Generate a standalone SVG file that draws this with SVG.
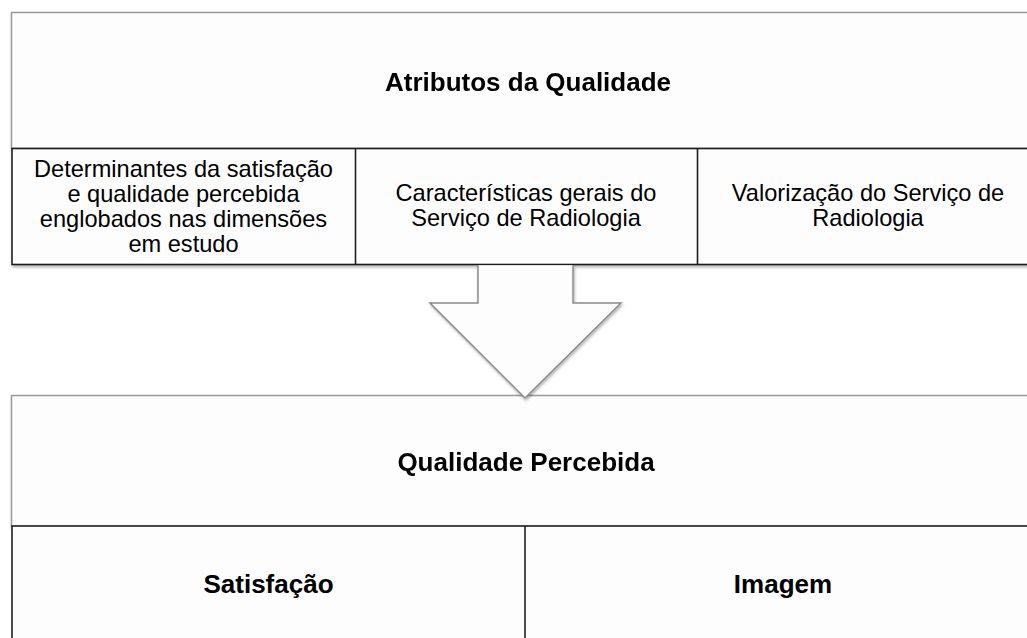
<svg xmlns="http://www.w3.org/2000/svg" width="1027" height="638" viewBox="0 0 1027 638">
  <defs>
    <filter id="sh" x="-5%" y="-5%" width="110%" height="120%">
      <feDropShadow dx="1" dy="2" stdDeviation="1.5" flood-color="#000" flood-opacity="0.3"/>
    </filter>
    <style>
      .hdr { fill: #fdfdfd; stroke: #9a9a9a; stroke-width: 1.5; }
      .row { fill: #fdfdfd; stroke: #1e1e1e; stroke-width: 1.6; }
      .div { stroke: #1e1e1e; stroke-width: 1.6; }
      .b { font-family: "Liberation Sans", Arial, sans-serif; font-weight: bold; font-size: 26px; fill: #000; text-anchor: middle; }
      .r { font-family: "Liberation Sans", Arial, sans-serif; font-size: 23.6px; fill: #000; text-anchor: middle; }
      .arrowfill { fill: #fdfdfd; stroke: none; }
      .arrowline { fill: none; stroke: #8a8a8a; stroke-width: 1.5; stroke-linejoin: miter; }
    </style>
  </defs>
  <rect width="1027" height="638" fill="#ffffff"/>

  <g id="node-atributos" filter="url(#sh)">
    <rect class="hdr" x="11.5" y="12.5" width="1030" height="136"/>
    <text class="b" x="528" y="91">Atributos da Qualidade</text>
  </g>

  <g id="node-atributos-row" filter="url(#sh)">
    <rect class="row" x="12" y="148.5" width="1030" height="116"/>
    <line class="div" x1="355.5" y1="148.5" x2="355.5" y2="264.5"/>
    <line class="div" x1="697.5" y1="148.5" x2="697.5" y2="264.5"/>
  </g>

  <g id="node-determinantes">
    <text class="r" x="183.5" y="177">Determinantes da satisfação</text>
    <text class="r" x="183.5" y="202">e qualidade percebida</text>
    <text class="r" x="183.5" y="227">englobados nas dimensões</text>
    <text class="r" x="183.5" y="252">em estudo</text>
  </g>

  <g id="node-caracteristicas">
    <text class="r" x="526" y="200.5">Características gerais do</text>
    <text class="r" x="526" y="225.5">Serviço de Radiologia</text>
  </g>

  <g id="node-valorizacao">
    <text class="r" x="868" y="200.5">Valorização do Serviço de</text>
    <text class="r" x="868" y="225.5">Radiologia</text>
  </g>

  <g id="node-qualidade" filter="url(#sh)">
    <rect class="hdr" x="11.5" y="395.5" width="1030" height="131"/>
    <text class="b" x="526" y="471">Qualidade Percebida</text>
  </g>

  <g id="node-qualidade-row">
    <rect class="row" x="12" y="526" width="1030" height="140"/>
    <line class="div" x1="525" y1="526" x2="525" y2="660"/>
  </g>

  <g id="node-satisfacao">
    <text class="b" x="268.5" y="593">Satisfação</text>
  </g>

  <g id="node-imagem">
    <text class="b" x="783" y="593">Imagem</text>
  </g>

  <g id="connectors">
    <g filter="url(#sh)">
      <polygon class="arrowfill" points="478,265.3 573,265.3 573,303 621,303 525,398 430,303 478,303"/>
      <polyline class="arrowline" points="573,265.3 573,303 621,303 525,398 430,303 478,303 478,265.3"/>
    </g>
  </g>
</svg>
